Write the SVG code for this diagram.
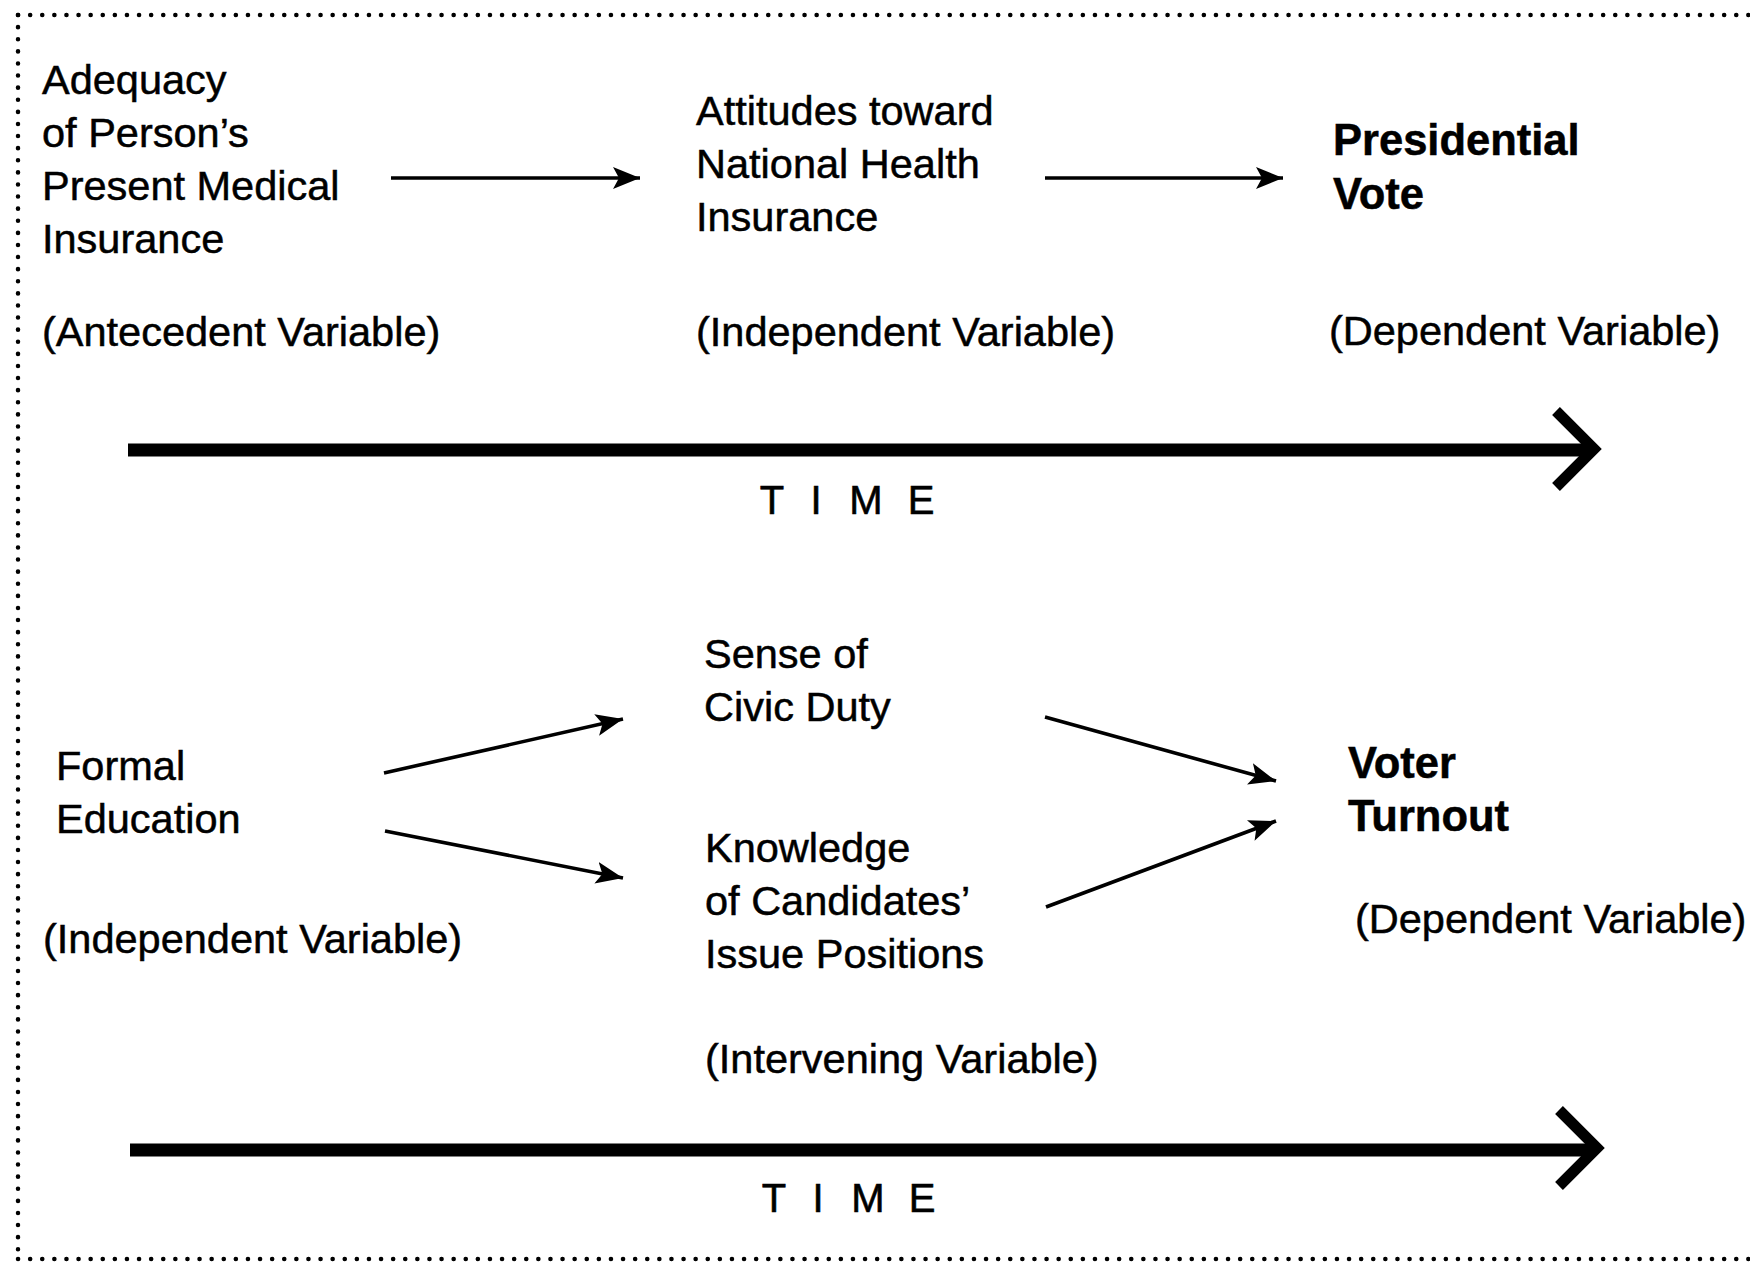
<svg xmlns="http://www.w3.org/2000/svg" width="1750" height="1263" viewBox="0 0 1750 1263">
<style>
.t{font-family:"Liberation Sans",Arial,Helvetica,sans-serif;font-size:41.5px;fill:#000;stroke:#000;stroke-width:0.5}
.b{font-weight:bold;font-size:43.5px}
.tm{font-family:"Liberation Sans",Arial,Helvetica,sans-serif;font-size:40px;fill:#000;stroke:#000;stroke-width:0.6;text-anchor:middle}
.c{stroke:#000;stroke-width:3.6;fill:none;marker-end:url(#ah)}
.axis{stroke:#000;stroke-width:13;fill:none}
.chev{stroke:#000;stroke-width:11;fill:none;stroke-linejoin:miter}
.dot{stroke:#000;stroke-width:4.5;stroke-dasharray:0.1 12;stroke-linecap:round;fill:none}
</style>
<defs>
<marker id="ah" markerUnits="userSpaceOnUse" markerWidth="30" markerHeight="24" refX="27" refY="11" orient="auto">
<path d="M0,0 L27,11 L0,22 L6,11 Z" fill="#000"/>
</marker>
</defs>
<rect width="1750" height="1263" fill="#fff"/>
<g id="border">
<line class="dot" x1="18" y1="15" x2="1750" y2="15"/>
<line class="dot" x1="18" y1="15" x2="18" y2="1259"/>
<line class="dot" x1="18" y1="1259" x2="1750" y2="1259"/>
</g>
<g id="node-adequacy">
<text class="t" x="42" y="94">Adequacy</text>
<text class="t" x="42" y="147">of Person’s</text>
<text class="t" x="42" y="200">Present Medical</text>
<text class="t" x="42" y="253">Insurance</text>
<text class="t" x="42" y="346">(Antecedent Variable)</text>
</g>
<g id="node-attitudes">
<text class="t" x="696" y="125">Attitudes toward</text>
<text class="t" x="696" y="178">National Health</text>
<text class="t" x="696" y="231">Insurance</text>
<text class="t" x="696" y="346">(Independent Variable)</text>
</g>
<g id="node-presidential">
<text class="t b" x="1333" y="155">Presidential</text>
<text class="t b" x="1333" y="209">Vote</text>
<text class="t" x="1329" y="345">(Dependent Variable)</text>
</g>
<g id="node-education">
<text class="t" x="56" y="780">Formal</text>
<text class="t" x="56" y="833">Education</text>
<text class="t" x="43" y="953">(Independent Variable)</text>
</g>
<g id="node-civic">
<text class="t" x="704" y="668">Sense of</text>
<text class="t" x="704" y="721">Civic Duty</text>
</g>
<g id="node-knowledge">
<text class="t" x="705" y="862">Knowledge</text>
<text class="t" x="705" y="915">of Candidates’</text>
<text class="t" x="705" y="968">Issue Positions</text>
<text class="t" x="705" y="1073">(Intervening Variable)</text>
</g>
<g id="node-turnout">
<text class="t b" x="1348" y="778">Voter</text>
<text class="t b" x="1348" y="831">Turnout</text>
<text class="t" x="1355" y="933">(Dependent Variable)</text>
</g>
<g id="connectors">
<line class="c" x1="391" y1="178" x2="640" y2="178"/>
<line class="c" x1="1045" y1="178" x2="1283" y2="178"/>
<line class="c" x1="384" y1="773" x2="623" y2="719"/>
<line class="c" x1="385" y1="831" x2="623" y2="878"/>
<line class="c" x1="1045" y1="717" x2="1276" y2="781"/>
<line class="c" x1="1046" y1="907" x2="1276" y2="821"/>
</g>
<g id="time-1">
<line class="axis" x1="128" y1="450" x2="1592" y2="450"/>
<polyline class="chev" points="1556,411 1594,449 1556,487"/>
<text class="tm" x="772" y="514">T</text>
<text class="tm" x="816" y="514">I</text>
<text class="tm" x="866" y="514">M</text>
<text class="tm" x="921" y="514">E</text>
</g>
<g id="time-2">
<line class="axis" x1="130" y1="1150" x2="1594" y2="1150"/>
<polyline class="chev" points="1559,1110 1597,1148 1559,1186"/>
<text class="tm" x="774" y="1212">T</text>
<text class="tm" x="818" y="1212">I</text>
<text class="tm" x="868" y="1212">M</text>
<text class="tm" x="922" y="1212">E</text>
</g>
</svg>
